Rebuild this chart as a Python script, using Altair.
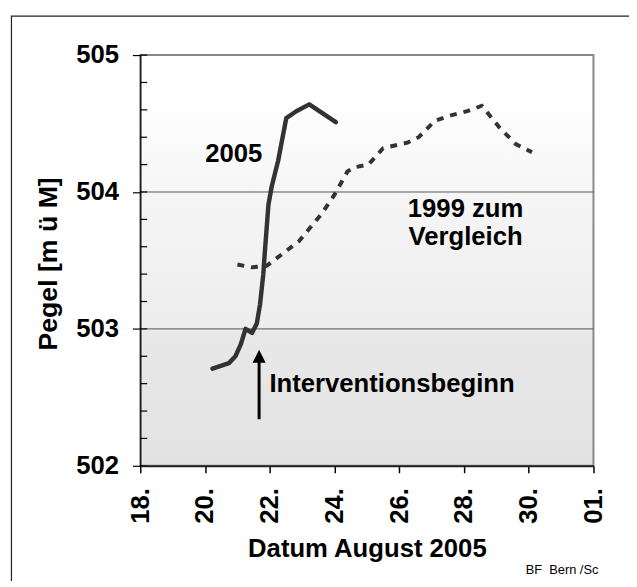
import altair as alt
import pandas as pd

# ---- data ----
days_2005 = [20.23, 20.74, 20.94, 21.11, 21.25, 21.45, 21.60, 21.70, 21.80, 21.85,
             21.96, 22.06, 22.26, 22.51, 22.82, 23.22, 24.04]
level_2005 = [502.71, 502.75, 502.80, 502.89, 503.00, 502.97, 503.04, 503.18, 503.40, 503.57,
              503.91, 504.04, 504.23, 504.54, 504.59, 504.64, 504.51]

days_1999 = [21.0, 21.45, 21.9, 22.4, 22.9, 23.6, 24.0, 24.4, 24.6, 25.05,
             25.5, 26.25, 26.6, 27.1, 27.6, 28.1, 28.55, 29.1, 29.6, 30.1]
level_1999 = [503.47, 503.45, 503.46, 503.55, 503.64, 503.84, 503.98, 504.15, 504.18, 504.20,
              504.32, 504.36, 504.40, 504.52, 504.56, 504.59, 504.63, 504.47, 504.35, 504.29]

x_ticks = [18, 20, 22, 24, 26, 28, 30, 32]
y_ticks = [502, 503, 504, 505]
y_grid = [503, 504]
y_minor = [502.0, 502.2, 502.4, 502.6, 502.8, 503.0, 503.2, 503.4, 503.6, 503.8,
           504.0, 504.2, 504.4, 504.6, 504.8, 505.0]

ann_text = ["2005", "1999 zum", "Vergleich", "Interventionsbeginn"]
ann_day = [20.89, 28.05, 28.05, 21.99]
ann_level = [504.22, 503.82, 503.615, 502.54]
ann_align = ["center", "center", "center", "left"]

arrow_day = [21.67]
arrow_from = [502.34]
arrow_to = [502.77]
arrow_head = [502.80]

W, H = 459, 416
FONT = "Liberation Sans"
FS = 26

# ---- scales / axes ----
xscale = alt.Scale(domain=[18, 32], nice=False, zero=False)
yscale = alt.Scale(domain=[502, 505], nice=False, zero=False)

xaxis = alt.Axis(values=x_ticks, labelExpr="datum.value == 32 ? '01.' : format(datum.value, 'd') + '.'",
                 labelAngle=270, labelFontSize=FS, labelFontWeight="bold", labelFont=FONT,
                 labelColor="black", labelPadding=15, labelFlush=False, labelOverlap=False,
                 tickSize=7, tickColor="black", tickWidth=1.5, domainColor="#222", domainWidth=2,
                 grid=False, zindex=1,
                 title="Datum August 2005", titleFontSize=FS, titleFontWeight="bold", titleFont=FONT,
                 titleColor="black", titleX=W / 2, titleY=92, titleBaseline="alphabetic", titleAlign="center")
yaxis = alt.Axis(values=y_ticks, format="d", labelFontSize=FS, labelFontWeight="bold", labelFont=FONT,
                 labelColor="black", labelPadding=14, labelFlush=False, labelOverlap=False,
                 tickSize=8, tickColor="black", tickWidth=1.2, domainColor="black", domainWidth=1.2,
                 grid=False, zindex=1,
                 title="Pegel [m ü M]", titleFontSize=27, titleFontWeight="bold", titleFont=FONT,
                 titleColor="black", titleX=-85, titleY=H / 2 + 3, titleAngle=270,
                 titleBaseline="alphabetic", titleAlign="center")

X = lambda f="day": alt.X(f"{f}:Q", scale=xscale, axis=xaxis)
Y = lambda f="level": alt.Y(f"{f}:Q", scale=yscale, axis=yaxis)

df05 = pd.DataFrame({"day": days_2005, "level": level_2005})
df99 = pd.DataFrame({"day": days_1999, "level": level_1999})
dfgrid = pd.DataFrame({"level": y_grid})
dfminor = pd.DataFrame({"level": y_minor})
dfann = pd.DataFrame({"day": ann_day, "level": ann_level, "text": ann_text, "align": ann_align})
dfarrow = pd.DataFrame({"day": arrow_day, "level": arrow_from, "level2": arrow_to, "head": arrow_head})

gradient = alt.LinearGradient(
    gradient="linear",
    stops=[alt.GradientStop(color="#ffffff", offset=0),
           alt.GradientStop(color="#fefefe", offset=0.12),
           alt.GradientStop(color="#f6f6f6", offset=0.33),
           alt.GradientStop(color="#ededed", offset=0.66),
           alt.GradientStop(color="#e8e8e8", offset=0.68),
           alt.GradientStop(color="#e2e2e2", offset=1)],
    x1=0, x2=0, y1=0, y2=1)

background = alt.Chart(pd.DataFrame({"a": [0]})).mark_rect(
    fill=gradient, stroke="#888888", strokeWidth=2).encode(
    x=alt.value(0), x2=alt.value(W), y=alt.value(0), y2=alt.value(H))

grid = alt.Chart(dfgrid).mark_rule(color="#555555", strokeWidth=1).encode(y=Y())

minor = alt.Chart(dfminor).mark_rule(color="black", strokeWidth=1.2).encode(
    y=Y(), x=alt.value(0), x2=alt.value(7))

line99 = alt.Chart(df99).mark_line(color="#333333", strokeWidth=4, strokeDash=[7, 7]).encode(
    x=X(), y=Y())

line05 = alt.Chart(df05).mark_line(color="#333333", strokeWidth=4.5, strokeCap="round",
                                   strokeJoin="round").encode(x=X(), y=Y())

shaft = alt.Chart(dfarrow).mark_rule(color="black", strokeWidth=3).encode(
    x=X(), y=Y(), y2="level2:Q")

head = alt.Chart(dfarrow).mark_point(shape="M0,-1L1,1L-1,1Z", filled=True, color="black",
                                     opacity=1, size=175).encode(x=X(), y=Y("head"))

texts = []
for al in ["center", "left"]:
    texts.append(alt.Chart(dfann[dfann["align"] == al]).mark_text(
        align=al, baseline="alphabetic", fontSize=FS, fontWeight="bold", font=FONT, color="black").encode(
        x=X(), y=Y(), text="text:N"))

credit = alt.Chart(pd.DataFrame({"a": [0]})).mark_text(
    align="right", baseline="alphabetic", fontSize=13, font=FONT, color="black").encode(
    x=alt.value(464), y=alt.value(526), text=alt.value("BF\u00a0 Bern /Sc"))

border = alt.Chart(pd.DataFrame({"a": [0]})).mark_rect(
    filled=False, stroke="#222222", strokeWidth=1.2).encode(
    x=alt.value(-130.5), x2=alt.value(520), y=alt.value(-39.5), y2=alt.value(560))

chart = alt.layer(background, grid, minor, line99, line05, shaft, head, *texts, credit, border).properties(
    width=W, height=H,
    padding={"left": 134, "top": 44, "right": 36, "bottom": 113},
    autosize=alt.AutoSizeParams(type="none"),
    background="white",
).configure_view(stroke=None)

chart.save("out.html", embed_options={"renderer": "svg", "actions": False})
